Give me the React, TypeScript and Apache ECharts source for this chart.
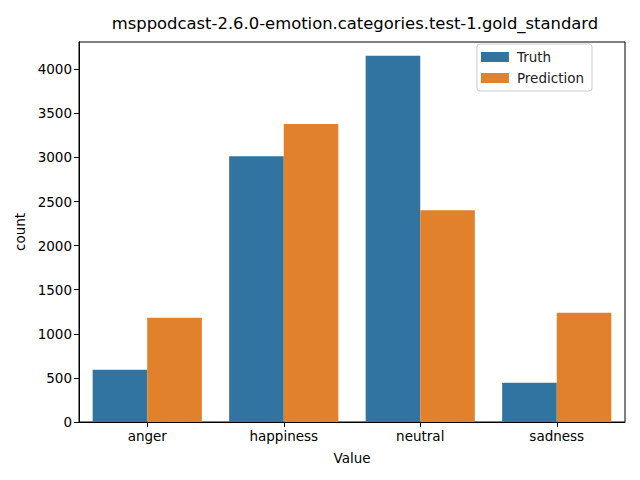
import React, { useEffect, useRef } from "react";
import * as echarts from "echarts";

const categories = ["anger", "happiness", "neutral", "sadness"];
const truthValues = [592, 3015, 4153, 445];
const predictionValues = [1181, 3379, 2403, 1238];
const yTicks = [0, 500, 1000, 1500, 2000, 2500, 3000, 3500, 4000];

const FONT = "DejaVu Sans";

export default function App() {
  const ref = useRef<HTMLDivElement>(null);
  useEffect(() => {
    if (!ref.current) return;
    const chart = echarts.init(ref.current, null, { renderer: "svg" });
    chart.setOption({
      animation: false,
      backgroundColor: "#ffffff",
      textStyle: { fontFamily: FONT },
      title: {
        text: "msppodcast-2.6.0-emotion.categories.test-1.gold_standard",
        left: 350,
        textAlign: "center",
        top: 10,
        textStyle: { fontFamily: FONT, fontSize: 16.4, fontWeight: "normal", color: "#000" },
      },
      legend: {
        right: 48,
        top: 44,
        orient: "vertical",
        icon: "rect",
        itemWidth: 28,
        itemHeight: 10,
        itemGap: 7,
        padding: [6, 8, 6, 4],
        backgroundColor: "rgba(255,255,255,0.8)",
        borderColor: "#cccccc",
        borderWidth: 1,
        borderRadius: 3,
        textStyle: { fontFamily: FONT, fontSize: 13.5, color: "#222", padding: [0, 0, 0, 3] },
        data: ["Truth", "Prediction"],
      },
      grid: {
        left: 79,
        right: 15,
        top: 42,
        bottom: 58,
        show: true,
        borderColor: "#000",
        borderWidth: 1,
        backgroundColor: "transparent",
      },
      xAxis: {
        type: "category",
        data: categories,
        name: "Value",
        nameLocation: "middle",
        nameGap: 29,
        nameTextStyle: { fontFamily: FONT, fontSize: 13.5, color: "#000" },
        axisLine: { show: true, lineStyle: { color: "#000", width: 1 } },
        axisTick: { show: true, alignWithLabel: true, length: 5, lineStyle: { color: "#000" } },
        axisLabel: { fontFamily: FONT, fontSize: 13.5, color: "#000", margin: 7 },
      },
      yAxis: {
        type: "value",
        min: 0,
        max: 4310,
        name: "count",
        nameLocation: "middle",
        nameGap: 52,
        nameTextStyle: { fontFamily: FONT, fontSize: 13.5, color: "#000" },
        axisLine: { show: true, lineStyle: { color: "#000", width: 1 } },
        axisTick: { show: true, length: 5, lineStyle: { color: "#000" }, customValues: yTicks },
        axisLabel: {
          fontFamily: FONT,
          fontSize: 13.5,
          color: "#000",
          margin: 7,
          customValues: yTicks,
          formatter: (v: number) => String(v),
        },
        splitLine: { show: false },
      },
      series: [
        {
          name: "Truth",
          type: "bar",
          data: truthValues,
          itemStyle: { color: "#3274a1" },
          barGap: "0%",
          barCategoryGap: "20%",
        },
        {
          name: "Prediction",
          type: "bar",
          data: predictionValues,
          itemStyle: { color: "#e1812c" },
          barGap: "0%",
          barCategoryGap: "20%",
        },
      ],
    });
    return () => chart.dispose();
  }, []);
  return <div ref={ref} style={{ width: 640, height: 480, position: "absolute", left: 0, top: 0 }} />;
}
